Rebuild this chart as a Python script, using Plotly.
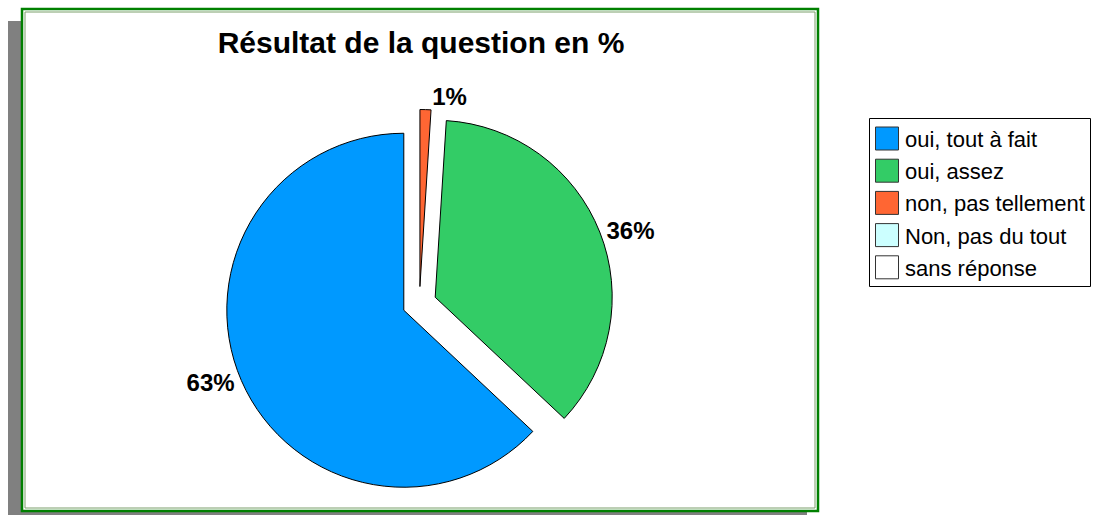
import plotly.graph_objects as go

# ---- data ----
categories = ["oui, tout à fait", "oui, assez", "non, pas tellement", "Non, pas du tout", "sans réponse"]
values = [63, 36, 1, 0, 0]
colors = ["#0099FF", "#33CC66", "#FF6633", "#CCFFFF", "#FFFFFF"]
title_text = "Résultat de la question en %"

W, H = 1095, 515
FONT = "Liberation Sans, Arial, sans-serif"


def px(x):
    return x / W


def py(y):
    return 1 - y / H


# pie only gets the non-empty slices (zero slices would draw stray radial strokes);
# listed in reverse so that, going clockwise from 12 o'clock, the first category
# ends at 12 o'clock on the left side as in the reference
nz = [i for i, v in enumerate(values) if v > 0][::-1]
pie_labels = [categories[i] for i in nz]
pie_values = [values[i] for i in nz]
pie_colors = [colors[i] for i in nz]

# pie geometry (pixels)
cx, cy, r, pull = 419.4, 303.5, 177.0, 0.096
half = r * (1 + pull)

fig = go.Figure()
fig.add_trace(go.Pie(
    labels=pie_labels,
    values=pie_values,
    marker=dict(colors=pie_colors, line=dict(color="black", width=1)),
    sort=False,
    direction="clockwise",
    rotation=0,
    pull=[pull] * len(pie_values),
    textinfo="percent",
    textposition="outside",
    outsidetextfont=dict(family=FONT, size=24, color="black", weight="bold"),
    automargin=False,
    showlegend=False,
    hoverinfo="label+percent",
    domain=dict(x=[px(cx - half), px(cx + half)], y=[py(cy + half), py(cy - half)]),
))

shapes = []
# grey drop shadow
shapes.append(dict(type="rect", xref="paper", yref="paper", layer="below",
                   x0=px(8), x1=px(807), y0=py(520), y1=py(21),
                   fillcolor="#808080", line=dict(width=0)))
# white frame with thick green outer border
shapes.append(dict(type="rect", xref="paper", yref="paper", layer="below",
                   x0=px(22), x1=px(818), y0=py(511), y1=py(9),
                   fillcolor="white", line=dict(color="#008000", width=2.5)))
# thin inner border
shapes.append(dict(type="rect", xref="paper", yref="paper", layer="below",
                   x0=px(25), x1=px(815), y0=py(508), y1=py(12),
                   fillcolor="rgba(0,0,0,0)", line=dict(color="#7A9F6A", width=1)))

# legend box
lx0, lx1, ly0, ly1 = 869.5, 1090.5, 118.5, 286.5
shapes.append(dict(type="rect", xref="paper", yref="paper",
                   x0=px(lx0), x1=px(lx1), y0=py(ly1), y1=py(ly0),
                   fillcolor="white", line=dict(color="black", width=1)))

annotations = []
row0, row_gap, sw = 138.5, 32.2, 23
for i, (cat, col) in enumerate(zip(categories, colors)):
    yc = row0 + i * row_gap
    shapes.append(dict(type="rect", xref="paper", yref="paper",
                       x0=px(875.5), x1=px(875.5 + sw),
                       y0=py(yc + sw / 2), y1=py(yc - sw / 2),
                       fillcolor=col, line=dict(color="#333333", width=1)))
    annotations.append(dict(xref="paper", yref="paper", x=px(903), y=py(yc + 1),
                            xanchor="left", yanchor="middle", showarrow=False,
                            text=cat, font=dict(family=FONT, size=22, color="black")))

fig.update_layout(
    width=W, height=H,
    autosize=False,
    margin=dict(l=0, r=0, t=0, b=0, pad=0, autoexpand=False),
    paper_bgcolor="white",
    plot_bgcolor="white",
    title=dict(text=title_text, x=px(421), xanchor="center",
               y=py(42), yanchor="middle", xref="paper", yref="paper",
               automargin=False,
               font=dict(family=FONT, size=30, color="black", weight="bold")),
    shapes=shapes,
    annotations=annotations,
    showlegend=False,
)

fig.write_html("out.html", config={"displayModeBar": False},
               post_script="document.body.style.margin='0';document.body.style.overflow='hidden';")
